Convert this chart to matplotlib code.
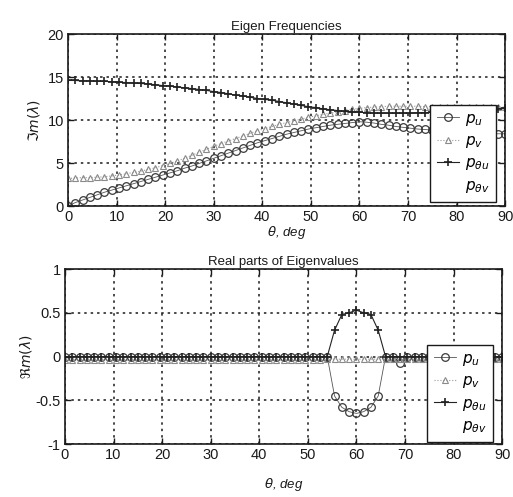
import matplotlib
matplotlib.use("Agg")
import matplotlib.pyplot as plt
import numpy as np

plt.rcParams['font.family'] = ['Liberation Sans', 'DejaVu Sans']
plt.rcParams['mathtext.fontset'] = 'dejavusans'

theta = [0, 1.5, 3, 4.5, 6, 7.5, 9, 10.5, 12, 13.5, 15, 16.5, 18, 19.5, 21, 22.5,
         24, 25.5, 27, 28.5, 30, 31.5, 33, 34.5, 36, 37.5, 39, 40.5, 42, 43.5, 45,
         46.5, 48, 49.5, 51, 52.5, 54, 55.5, 57, 58.5, 60, 61.5, 63, 64.5, 66, 67.5,
         69, 70.5, 72, 73.5, 75, 76.5, 78, 79.5, 81, 82.5, 84, 85.5, 87, 88.5, 90]

# Imaginary parts (eigen frequencies)
im_pu = [0.0, 0.4, 0.7, 1.0, 1.3, 1.6, 1.85, 2.1, 2.35, 2.6, 2.85, 3.1, 3.35, 3.6,
         3.85, 4.1, 4.4, 4.65, 4.95, 5.25, 5.55, 5.85, 6.15, 6.45, 6.75, 7.05, 7.35,
         7.6, 7.85, 8.1, 8.35, 8.55, 8.75, 8.95, 9.1, 9.25, 9.4, 9.5, 9.6, 9.7, 9.8,
         9.75, 9.65, 9.5, 9.4, 9.25, 9.15, 9.05, 8.95, 8.9, 8.8, 8.75, 8.7, 8.65, 8.6,
         8.55, 8.5, 8.5, 8.45, 8.4, 8.4]
im_pv = [3.2, 3.25, 3.3, 3.3, 3.35, 3.4, 3.5, 3.6, 3.75, 3.9, 4.05, 4.25, 4.45, 4.7,
         4.95, 5.25, 5.55, 5.9, 6.25, 6.6, 6.95, 7.25, 7.55, 7.85, 8.15, 8.45, 8.75,
         9.0, 9.25, 9.5, 9.7, 9.9, 10.1, 10.3, 10.5, 10.65, 10.8, 10.95, 11.1, 11.25,
         11.35, 11.45, 11.5, 11.55, 11.6, 11.6, 11.6, 11.6, 11.6, 11.55, 11.55, 11.5,
         11.5, 11.5, 11.5, 11.5, 11.5, 11.5, 11.5, 11.5, 11.5]
im_ptu = [14.6, 14.6, 14.55, 14.55, 14.5, 14.5, 14.45, 14.4, 14.35, 14.3, 14.25,
          14.2, 14.1, 14.0, 13.95, 13.85, 13.75, 13.65, 13.55, 13.45, 13.3, 13.2,
          13.05, 12.9, 12.8, 12.65, 12.5, 12.4, 12.3, 12.15, 12.0, 11.85, 11.7, 11.55,
          11.45, 11.3, 11.2, 11.1, 11.0, 10.95, 10.9, 10.85, 10.8, 10.8, 10.8, 10.8,
          10.8, 10.8, 10.85, 10.85, 10.9, 10.95, 11.0, 11.0, 11.05, 11.1, 11.15, 11.2,
          11.25, 11.3, 11.4]

# Real parts of eigenvalues
re_pu = [0.0, 0.0, 0.0, 0.0, 0.0, 0.0, 0.0, 0.0, 0.0, 0.0, 0.0, 0.0, 0.0, 0.0, 0.0,
         0.0, 0.0, 0.0, 0.0, 0.0, 0.0, 0.0, 0.0, 0.0, 0.0, 0.0, 0.0, 0.0, 0.0, 0.0,
         0.0, 0.0, 0.0, 0.0, 0.0, 0.0, 0.0, -0.45, -0.58, -0.63, -0.65, -0.63, -0.58,
         -0.45, 0.0, 0.0, -0.07, 0.0, 0.0, 0.0, 0.0, 0.0, 0.0, 0.0, 0.0, 0.0, 0.0,
         0.0, 0.0, 0.0, 0.0]
re_pv = [-0.04, -0.04, -0.04, -0.04, -0.04, -0.04, -0.04, -0.04, -0.04, -0.04, -0.04,
         -0.04, -0.04, -0.04, -0.04, -0.04, -0.04, -0.04, -0.04, -0.04, -0.04, -0.04,
         -0.04, -0.04, -0.04, -0.04, -0.04, -0.04, -0.04, -0.04, -0.04, -0.04, -0.04,
         -0.04, -0.04, -0.04, -0.03, -0.03, -0.03, -0.03, -0.03, -0.03, -0.03, -0.03,
         -0.03, -0.03, -0.03, -0.03, -0.03, -0.03, -0.03, -0.03, -0.03, -0.03, -0.03,
         -0.03, -0.03, -0.03, -0.03, -0.03, -0.03]
re_ptu = [0.0, 0.0, 0.0, 0.0, 0.0, 0.0, 0.0, 0.0, 0.0, 0.0, 0.0, 0.0, 0.0, 0.0, 0.0,
          0.0, 0.0, 0.0, 0.0, 0.0, 0.0, 0.0, 0.0, 0.0, 0.0, 0.0, 0.0, 0.0, 0.0, 0.0,
          0.0, 0.0, 0.0, 0.0, 0.0, 0.0, 0.0, 0.3, 0.48, 0.5, 0.53, 0.5, 0.48, 0.3,
          0.0, 0.0, 0.0, 0.0, 0.0, 0.0, 0.0, 0.0, 0.0, 0.0, 0.0, 0.0, 0.0, 0.0, 0.0,
          0.0, 0.0]

labels = [r'$p_u$', r'$p_v$', r'$p_{\theta u}$', r'$p_{\theta v}$']
xticks = [0, 10, 20, 30, 40, 50, 60, 70, 80, 90]
top_yticks = [0, 5, 10, 15, 20]
bot_yticks = [-1, -0.5, 0, 0.5, 1]
bot_yticklabels = ['-1', '-0.5', '0', '0.5', '1']

ink = '#1a1a1a'
fig = plt.figure(figsize=(5.13, 4.97), dpi=100)
ax1 = fig.add_axes([0.1326, 0.5855, 0.852, 0.346])
ax2 = fig.add_axes([0.1267, 0.1066, 0.852, 0.352])


def style(ax):
    ax.set_xlim(0, 90)
    ax.set_xticks(xticks)
    ax.grid(True, color=ink, linestyle=(0, (1.6, 2.6)), linewidth=1.1)
    ax.tick_params(direction='in', top=True, right=True, length=4, width=1,
                   labelsize=10.5, colors=ink, pad=3)
    for s in ax.spines.values():
        s.set_color(ink)
        s.set_linewidth(1.2)


def draw(ax, pu, pv, ptu):
    l1, = ax.plot(theta, pu, '-', color='#555555', lw=0.6, marker='o', ms=5.5,
                  mfc='none', mec='#3a3a3a', mew=0.9, label=labels[0])
    l2, = ax.plot(theta, pv, ':', color='#999999', lw=0.8, marker='^', ms=4,
                  mfc='none', mec='#8a8a8a', mew=0.8, label=labels[1])
    l3, = ax.plot(theta, ptu, '-', color='#222222', lw=0.8, marker='+', ms=6,
                  mec='#222222', mew=1.2, label=labels[2])
    l4, = ax.plot([], [], linestyle='none', label=labels[3])
    return [l1, l2, l3, l4]


h = draw(ax1, im_pu, im_pv, im_ptu)
style(ax1)
ax1.set_ylim(0, 20)
ax1.set_yticks(top_yticks)
ax1.set_title('Eigen Frequencies', fontsize=9.5, color=ink, pad=3)
ax1.set_xlabel(r'$\theta$, deg', fontsize=9.5, color=ink, labelpad=0, style='italic')
ax1.set_ylabel(r'$\Im m(\lambda)$', fontsize=10, color=ink, labelpad=4)
leg1 = ax1.legend(handles=h, loc='lower right', bbox_to_anchor=(0.98, 0.025),
                  borderaxespad=0,
                  fontsize=11, labelspacing=0.42, handlelength=1.4, handletextpad=0.4,
                  borderpad=0.45, fancybox=False, framealpha=1, edgecolor=ink)
leg1.get_frame().set_linewidth(1.0)

h = draw(ax2, re_pu, re_pv, re_ptu)
style(ax2)
ax2.set_ylim(-1, 1)
ax2.set_yticks(bot_yticks)
ax2.set_yticklabels(bot_yticklabels)
ax2.set_title('Real parts of Eigenvalues', fontsize=9.5, color=ink, pad=3)
ax2.set_xlabel(r'$\theta$, deg', fontsize=9.5, color=ink, labelpad=10, style='italic')
ax2.set_ylabel(r'$\Re m(\lambda)$', fontsize=10, color=ink, labelpad=1)
leg2 = ax2.legend(handles=h, loc='lower right', bbox_to_anchor=(0.98, 0.012),
                  borderaxespad=0,
                  fontsize=11, labelspacing=0.42, handlelength=1.4, handletextpad=0.4,
                  borderpad=0.45, fancybox=False, framealpha=1, edgecolor=ink)
leg2.get_frame().set_linewidth(1.0)

fig.savefig('out.png', dpi=100, facecolor='white')
